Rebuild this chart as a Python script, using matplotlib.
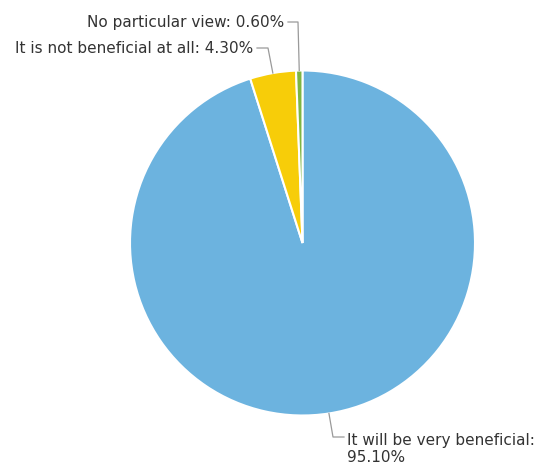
import numpy as np
import matplotlib.pyplot as plt

labels = ['It will be very beneficial:\n95.10%', 'It is not beneficial at all: 4.30%', 'No particular view: 0.60%']
values = [95.1, 4.3, 0.6]
colors = ['#6cb3df', '#f7cd09', '#7eb543']

W, H = 536, 469
fig = plt.figure(figsize=(W / 100, H / 100), dpi=100)
ax = fig.add_axes([0, 0, 1, 1])

cx, cy, r = 302.5, H - 243, 172.5
wedges, _ = ax.pie(values, colors=colors, startangle=90, counterclock=False,
                   center=(cx, cy), radius=r, frame=True,
                   wedgeprops=dict(edgecolor='white', linewidth=1.5))
ax.set_xlim(0, W)
ax.set_ylim(0, H)
ax.set_aspect('equal')
ax.axis('off')

# label positions (text anchor) and elbow points in pixel coords (y down)
text_pos = [(347, 449), (253, 48), (284, 22)]
elbow = [(333, 437), (268, 48), (298, 22)]
ha = ['left', 'right', 'right']
line_col = '#9a9a9a'

for w, lab, tp, el, h in zip(wedges, labels, text_pos, elbow, ha):
    ang = np.deg2rad((w.theta1 + w.theta2) / 2)
    px = cx + r * np.cos(ang)
    py = cy + r * np.sin(ang)
    ex, ey = el[0], H - el[1]
    tx, ty = tp[0], H - tp[1]
    if h == 'left':
        ax.plot([px, ex, tx - 3], [py, ey, ey], color=line_col, lw=0.9)
    else:
        ax.plot([px, ex, tx + 4], [py, ey, ey], color=line_col, lw=0.9)
    ax.text(tx, ty, lab, ha=h, va='center', fontsize=11, color='#333333',
            fontfamily='DejaVu Sans', linespacing=1.15)

fig.savefig('out.png', dpi=100, facecolor='white')
